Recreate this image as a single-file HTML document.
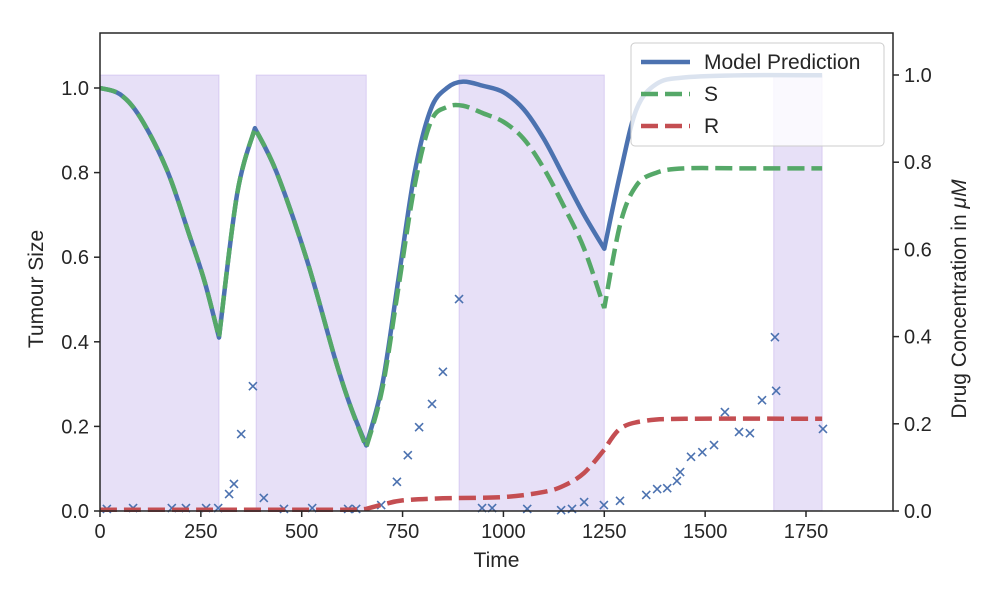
<!DOCTYPE html>
<html><head><meta charset="utf-8"><style>
body{margin:0;background:#fff;}
svg text{font-family:"Liberation Sans",sans-serif;fill:#262626;}
</style></head><body>
<svg id="chart" width="1000" height="600" xmlns="http://www.w3.org/2000/svg">
<g id="shade"></g>
<g id="scatter"></g>
<g id="lines"></g>
<g id="axes"></g>
<g id="legend">
<rect x="631" y="43" width="253" height="103" rx="4" fill="#fff" fill-opacity="0.8" stroke="#ccc"/>
<line x1="641" y1="62" x2="690" y2="62" stroke="#4c72b0" stroke-width="4.5"/>
<text x="704" y="69" font-size="21">Model Prediction</text>
<line x1="641" y1="94" x2="690" y2="94" stroke="#55a868" stroke-width="4.5" stroke-dasharray="17,7"/>
<text x="704" y="101" font-size="21">S</text>
<line x1="641" y1="126" x2="690" y2="126" stroke="#c44e52" stroke-width="4.5" stroke-dasharray="17,7"/>
<text x="704" y="133" font-size="21">R</text>
</g>
</svg>
<script>
const xTicks=[0,250,500,750,1000,1250,1500,1750];
const yTicks=[0,0.2,0.4,0.6,0.8,1.0];
const yRTicks=[0,0.2,0.4,0.6,0.8,1.0];
const drugStart=[0,387,890,1670];
const drugEnd=[295,660,1250,1790];
const drugLevel=[1,1,1,1];
const breaks=[295,384,660,1250];
const modelT=[0,50,100,166,223,260,295,340,384,438,513,582,620,660,700,740,780,820,860,900,950,1000,1050,1100,1150,1200,1250,1290,1330,1380,1450,1600,1790];
const modelY=[1.0,0.985,0.93,0.806,0.648,0.54,0.41,0.75,0.905,0.80,0.593,0.362,0.25,0.155,0.30,0.55,0.80,0.95,1.0,1.015,1.005,0.99,0.95,0.88,0.79,0.70,0.62,0.80,0.95,1.01,1.025,1.03,1.03];
const sT=[0,50,100,166,223,260,295,340,384,438,513,582,620,660,700,740,780,820,860,900,950,1000,1050,1100,1150,1200,1250,1290,1330,1380,1450,1600,1790];
const sY=[1.0,0.985,0.93,0.806,0.648,0.54,0.41,0.75,0.905,0.80,0.593,0.362,0.25,0.15,0.29,0.53,0.77,0.92,0.955,0.958,0.94,0.92,0.88,0.81,0.72,0.62,0.48,0.68,0.77,0.80,0.81,0.81,0.81];
const rT=[0,300,600,660,700,750,850,1000,1100,1150,1200,1250,1290,1350,1450,1790];
const rY=[0.003,0.003,0.003,0.005,0.015,0.025,0.03,0.033,0.045,0.06,0.09,0.145,0.195,0.213,0.218,0.218];
const obsT=[17,82,178,213,263,293,320,332,350,379,406,456,526,615,635,697,736,763,791,823,850,890,947,972,1059,1143,1170,1200,1249,1289,1354,1381,1406,1430,1438,1465,1493,1522,1549,1584,1611,1641,1673,1676,1792];
const obsY=[0.005,0.007,0.007,0.007,0.007,0.007,0.04,0.064,0.182,0.295,0.031,0.005,0.007,0.005,0.005,0.014,0.069,0.132,0.198,0.253,0.329,0.501,0.007,0.007,0.005,0.002,0.005,0.021,0.014,0.024,0.038,0.052,0.054,0.071,0.092,0.128,0.139,0.156,0.234,0.187,0.184,0.262,0.411,0.284,0.194];

const L=100,R=893,T=33,B=511;
const X=t=>L+t*(706/1750);
const Y=v=>B-v*423;
const YR=v=>B-v*436;
const NS="http://www.w3.org/2000/svg";
function mk(tag,attrs,parent){const e=document.createElementNS(NS,tag);for(const k in attrs)e.setAttribute(k,attrs[k]);parent.appendChild(e);return e;}
const shade=document.getElementById('shade');
for(let i=0;i<drugStart.length;i++){
 const r=mk('rect',{x:X(drugStart[i]),y:YR(drugLevel[i]),width:X(drugEnd[i])-X(drugStart[i]),height:B-YR(drugLevel[i]),fill:'#9370db','fill-opacity':0.22,stroke:'#9370db','stroke-opacity':0.25},shade);
 
 
}
function pathFor(ts,vs){
 const pts=ts.map((t,i)=>[X(t),Y(vs[i])]);
 const segs=[];let cur=[];
 ts.forEach((t,i)=>{cur.push(pts[i]);if(breaks.includes(t)&&cur.length>1){segs.push(cur);cur=[pts[i]];}});
 if(cur.length>1)segs.push(cur);
 let d='M'+pts[0][0]+','+pts[0][1];
 segs.forEach(s=>{
  for(let i=0;i<s.length-1;i++){
   const p0=s[i-1]||s[i],p1=s[i],p2=s[i+1],p3=s[i+2]||s[i+1];
   const c1=[p1[0]+(p2[0]-p0[0])/6,p1[1]+(p2[1]-p0[1])/6];
   const c2=[p2[0]-(p3[0]-p1[0])/6,p2[1]-(p3[1]-p1[1])/6];
   d+=` C${c1[0]},${c1[1]} ${c2[0]},${c2[1]} ${p2[0]},${p2[1]}`;
  }
 });
 return d;
}
const lines=document.getElementById('lines');
const pm=mk('path',{d:pathFor(modelT,modelY),fill:'none',stroke:'#4c72b0','stroke-width':4.5,'stroke-linejoin':'round'},lines);


const ps=mk('path',{d:pathFor(sT,sY),fill:'none',stroke:'#55a868','stroke-width':4.5,'stroke-dasharray':'17,7'},lines);


const pr=mk('path',{d:pathFor(rT,rY),fill:'none',stroke:'#c44e52','stroke-width':4.5,'stroke-dasharray':'17,7'},lines);


const sc=document.getElementById('scatter');
obsT.forEach((t,i)=>{
 const x=X(t),y=Y(obsY[i]),s=4;
 const p=mk('path',{d:`M${x-s},${y-s}L${x+s},${y+s}M${x-s},${y+s}L${x+s},${y-s}`,stroke:'#4c72b0','stroke-width':1.6},sc);
 
 
});
const ax=document.getElementById('axes');
const frame=mk('rect',{x:L,y:T,width:R-L,height:B-T,fill:'none',stroke:'#262626','stroke-width':1.5},ax);


xTicks.forEach(v=>{
 mk('line',{x1:X(v),x2:X(v),y1:B,y2:B+6,stroke:'#262626','stroke-width':1.5},ax);
 const t=mk('text',{x:X(v),y:B+27,'font-size':20,'text-anchor':'middle'},ax);t.textContent=v;
 
 
});
yTicks.forEach(v=>{
 mk('line',{x1:L-6,x2:L,y1:Y(v),y2:Y(v),stroke:'#262626','stroke-width':1.5},ax);
 const t=mk('text',{x:L-11,y:Y(v)+7,'font-size':20,'text-anchor':'end'},ax);t.textContent=v.toFixed(1);
 
 
});
yRTicks.forEach(v=>{
 mk('line',{x1:R,x2:R+6,y1:YR(v),y2:YR(v),stroke:'#262626','stroke-width':1.5},ax);
 const t=mk('text',{x:R+11,y:YR(v)+7,'font-size':20,'text-anchor':'start'},ax);t.textContent=v.toFixed(1);
 
 
});
const xt=mk('text',{x:(L+R)/2,y:567,'font-size':21,'text-anchor':'middle'},ax);xt.textContent='Time';


const yt=mk('text',{x:0,y:0,'font-size':21,'text-anchor':'middle',transform:`translate(43,289) rotate(-90)`},ax);yt.textContent='Tumour Size';


const yr=mk('text',{x:0,y:0,'font-size':21,'text-anchor':'middle',transform:`translate(966,299) rotate(-90)`},ax);
yr.innerHTML='Drug Concentration in <tspan font-style="italic">μM</tspan>';


</script>
</body></html>
